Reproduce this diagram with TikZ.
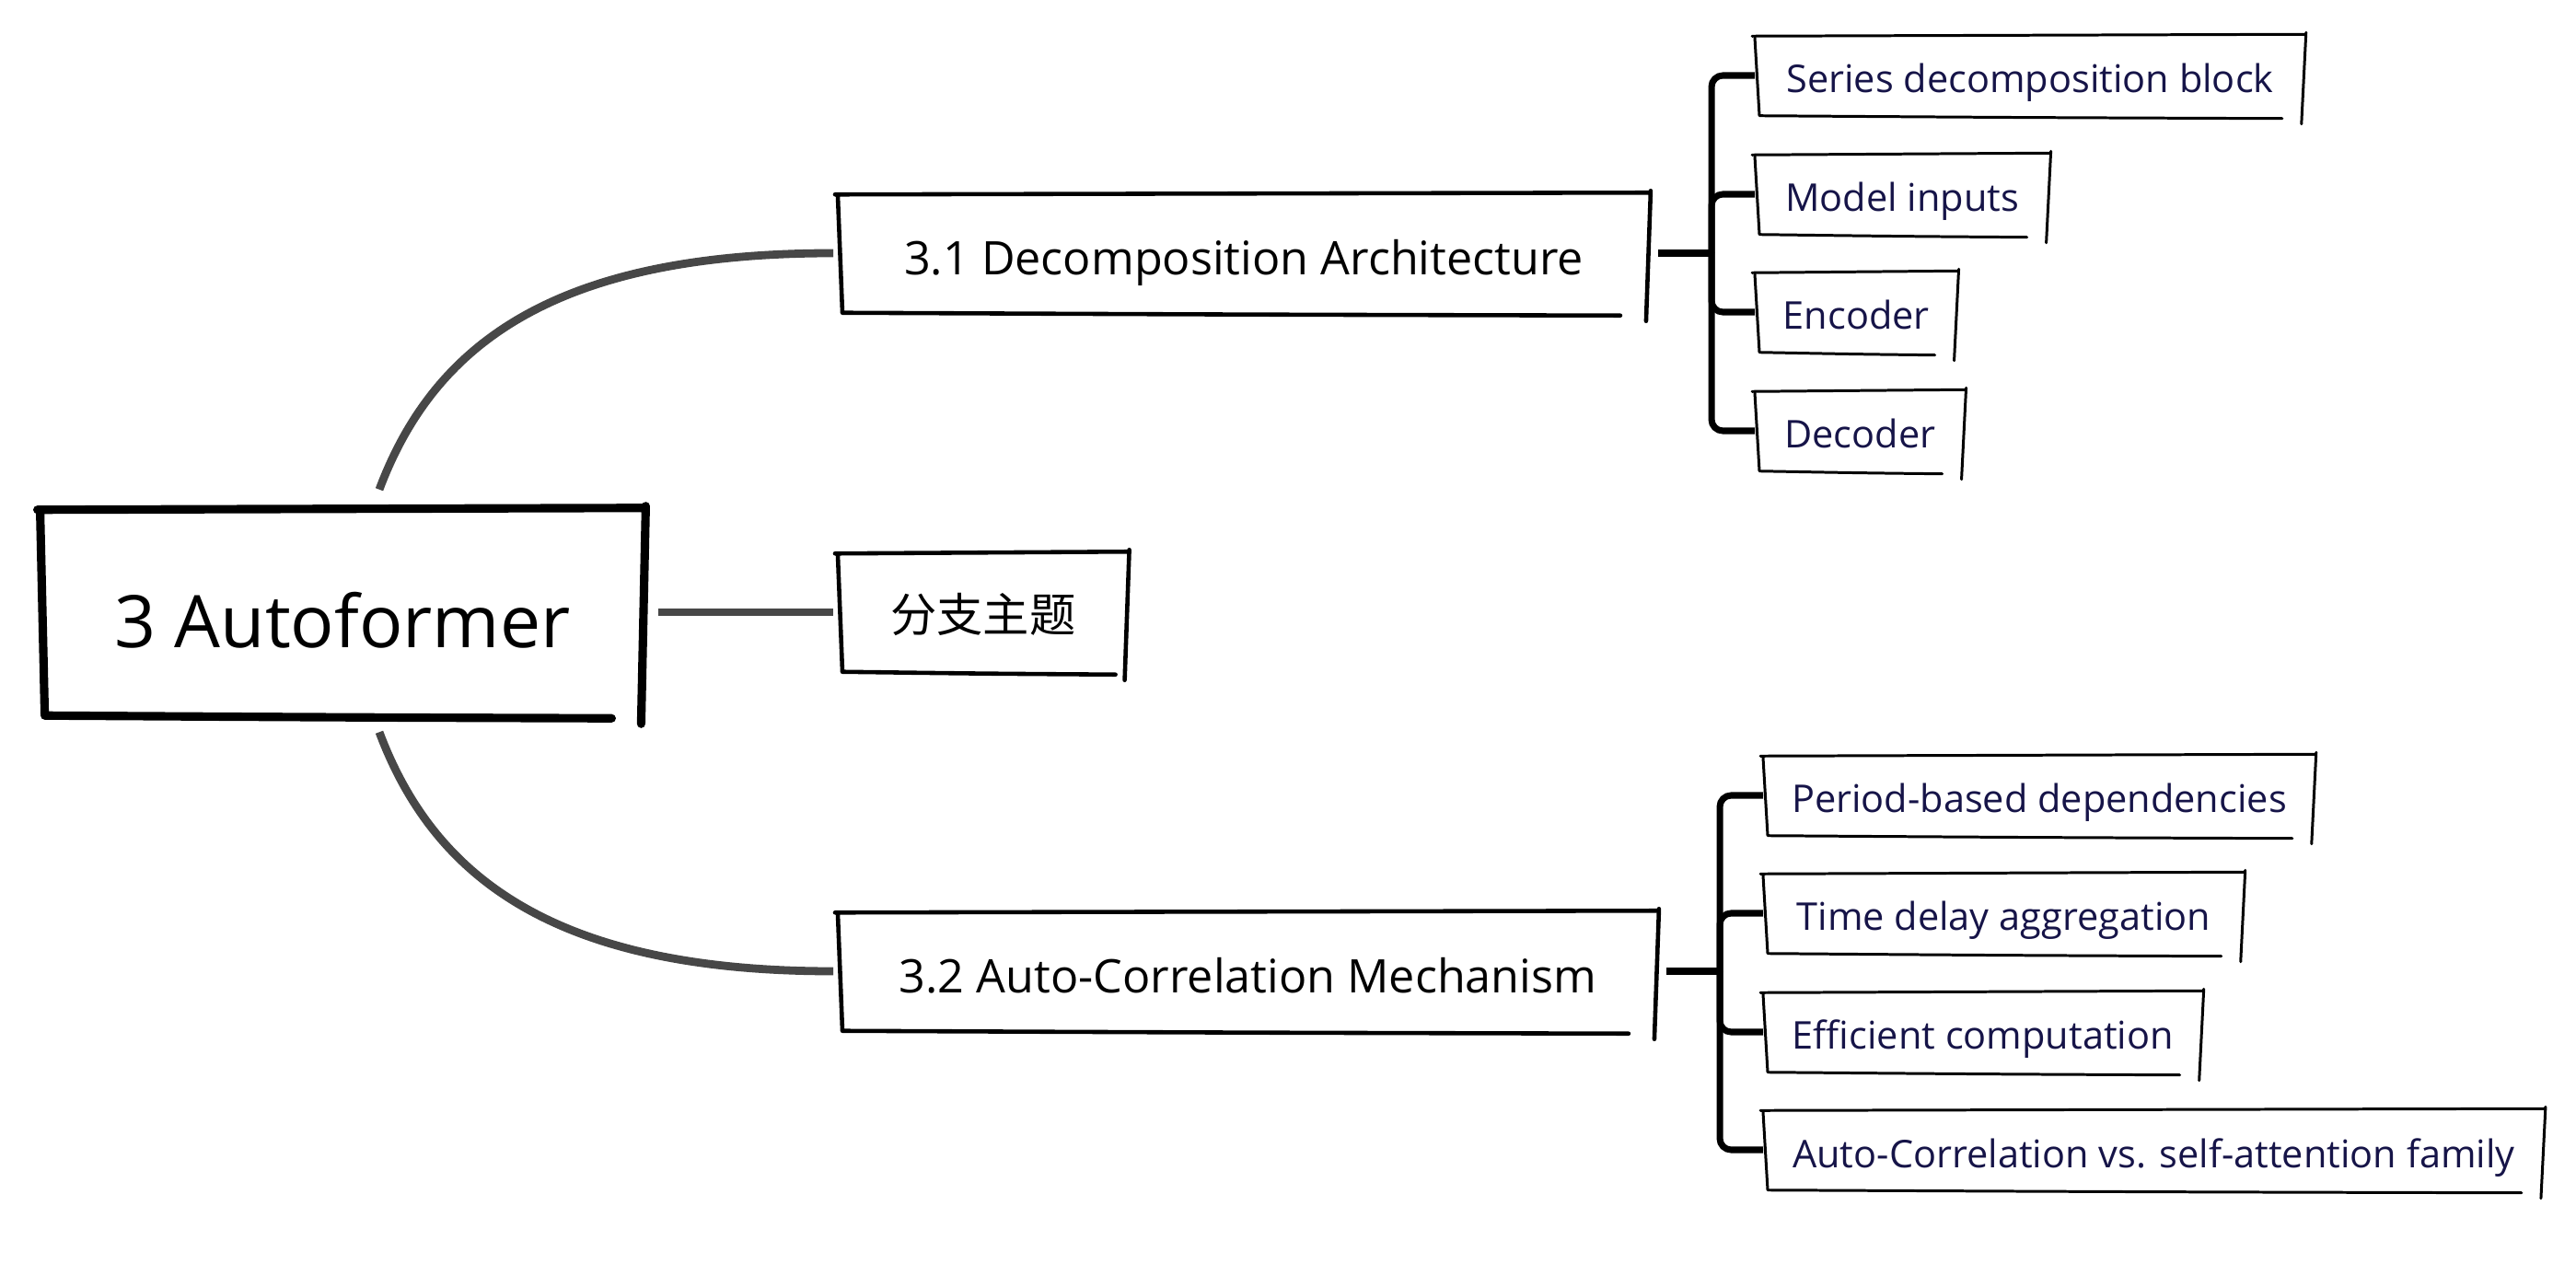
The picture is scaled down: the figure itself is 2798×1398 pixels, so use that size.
\documentclass[tikz,border=0pt]{standalone}
\usepackage{fontspec}
\setmainfont{Open Sans}
\newfontfamily\cjk{Noto Sans CJK SC}
\usetikzlibrary{calc}
\definecolor{conncol}{HTML}{474747}
\definecolor{navy}{RGB}{22,20,72}
\newcommand\skbox[3]{%
  \draw[line width=#2,line cap=round,line join=round]
    ($(#1.north west)+(-3,1)$) -- ($(#1.north east)+(0,-1)$)
    ($(#1.north west)+(0,3)$) -- ($(#1.south west)+(5,0)$)
    ($(#1.south west)+(5,0)$) .. controls ($(#1.south west)!0.5!(#1.south east)+(0,2)$) .. ($(#1.south east)+(-#3,3)$)
    ($(#1.north east)+(1,-3)$) -- ($(#1.south east)+(-4,9)$);
}
\tikzset{
  rootbox/.style={font=\fontsize{22.4}{27}\selectfont, minimum height=2.23cm, inner sep=0pt, text height=21.9pt, text depth=0pt, text=black},
  branchbox/.style={anchor=west, font=\fontsize{14.3}{17}\selectfont, minimum height=1.28cm, inner sep=0pt, text height=13.1pt, text depth=0pt, text=black},
  cjkbox/.style={branchbox, text height=12pt},
  childbox/.style={anchor=west, font=\fontsize{11.8}{14}\selectfont, minimum height=0.86cm, inner sep=0pt, text height=10.8pt, text depth=0pt, text=navy},
  conn/.style={draw=conncol, line width=2.5pt},
  brace/.style={draw=black, line width=2pt, rounded corners=3.5pt},
}
\begin{document}
\begin{tikzpicture}[x=0.01cm,y=-0.01cm]
\fill[white] (0,0) rectangle (2798,1398);
\path[use as bounding box] (0,0) rectangle (2798,1398);

% nodes
\node[rootbox, minimum width=6.55cm] (root) at (372,665) {3 Autoformer};
\node[branchbox, minimum width=8.8cm] (b31) at (910,275) {3.1 Decomposition Architecture};
\node[cjkbox, minimum width=3.14cm] (b0) at (910,665) {\cjk 分支主题};
\node[branchbox, minimum width=8.89cm] (b32) at (910,1055) {3.2 Auto-Correlation Mechanism};

\node[childbox, minimum width=5.96cm] (c11) at (1906,82) {Series decomposition block};
\node[childbox, minimum width=3.19cm] (c12) at (1906,211) {Model inputs};
\node[childbox, minimum width=2.19cm] (c13) at (1906,339) {Encoder};
\node[childbox, minimum width=2.27cm] (c14) at (1906,468) {Decoder};

\node[childbox, minimum width=5.98cm] (c21) at (1915,864) {Period-based dependencies};
\node[childbox, minimum width=5.21cm] (c22) at (1915,992) {Time delay aggregation};
\node[childbox, minimum width=4.76cm] (c23) at (1915,1121) {Efficient computation};
\node[childbox, minimum width=8.47cm] (c24) at (1915,1249) {Auto-Correlation vs. self-attention family};

% sketchy boxes
\skbox{root}{2.6pt}{36}
\skbox{b31}{1.3pt}{32}
\skbox{b0}{1.3pt}{14}
\skbox{b32}{1.3pt}{32}
\foreach \c in {c11,c12,c13,c14,c21,c22,c23,c24}{\skbox{\c}{0.85pt}{25}}

% main connectors
\draw[conn] ($(root.north)+(40,-21)$) .. controls +(60,-160) and +(-300,0) .. ($(b31.west)+(-5,0)$);
\draw[conn] ($(root.east)+(15,0)$) -- ($(b0.west)+(-5,0)$);
\draw[conn] ($(root.south)+(40,18)$) .. controls +(60,160) and +(-300,0) .. ($(b32.west)+(-5,0)$);

% brackets
\coordinate (h1) at (1859,275);
\draw[brace] ($(b31.east)+(9,0)$) -- (h1);
\foreach \c in {c11,c12,c13,c14}{\draw[brace] (h1) |- (\c.west);}
\coordinate (h2) at (1868,1055);
\draw[brace] ($(b32.east)+(9,0)$) -- (h2);
\foreach \c in {c21,c22,c23,c24}{\draw[brace] (h2) |- (\c.west);}
\end{tikzpicture}
\end{document}
